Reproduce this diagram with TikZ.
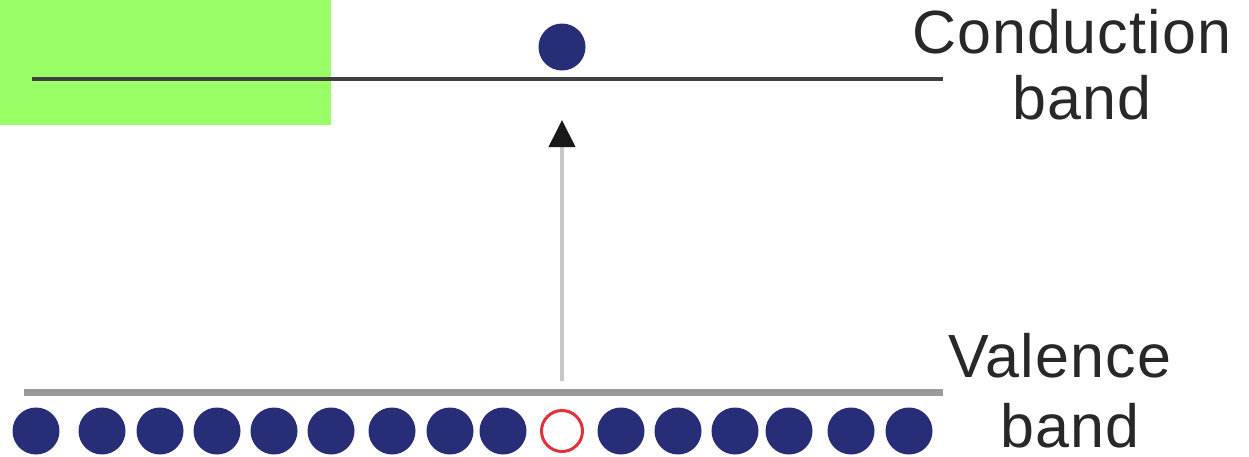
\documentclass[tikz,border=0pt]{standalone}
\usepackage{fontspec}
\setmainfont[LetterSpace=2]{Liberation Sans}
\usetikzlibrary{arrows.meta}
\definecolor{navy}{RGB}{40,45,120}
\definecolor{holered}{RGB}{225,50,60}
\definecolor{lgreen}{RGB}{153,255,102}
\definecolor{txtgray}{RGB}{40,40,40}
\definecolor{condgray}{RGB}{64,64,64}
\definecolor{valgray}{RGB}{155,155,155}
\definecolor{shaftgray}{RGB}{200,200,200}
\begin{document}
\begin{tikzpicture}[x=1pt,y=-1pt,
  electron/.style={circle,fill=navy,inner sep=0pt,minimum size=47pt},
  hole/.style={circle,draw=holered,line width=3pt,fill=white,inner sep=0pt,minimum size=41pt},
  lbl/.style={font=\fontsize{61}{66}\selectfont,text=txtgray,inner sep=0pt,anchor=base},
]
\useasboundingbox (0,0) rectangle (1249,456);
\fill[lgreen] (0,0) rectangle (331,125);
% bands
\coordinate (c1) at (32,79);
\coordinate (c2) at (943,79);
\coordinate (v1) at (24,392);
\coordinate (v2) at (943,392);
\draw[condgray,line width=4pt] (c1) -- (c2);
\draw[valgray,line width=7pt] (v1) -- (v2);
% excited electron
\node[electron] (e0) at (562,47) {};
% arrow
\coordinate (as) at (562,381);
\coordinate (ae) at (562,120);
\draw[shaftgray,line width=4pt,-{Triangle[length=27pt,width=26pt,color=black!90]}] (as) -- (ae);
% valence electrons
\foreach \x [count=\i] in {36,102,160,217,274,331,392,450,503,621,678,735,789,851,909}
  \node[electron] (v\i) at (\x,431) {};
\node[hole] (h) at (562,431) {};
% labels
\node[lbl] (t1) at (1072,53) {Conduction};
\node[lbl] (t2) at (1082,119) {band};
\node[lbl] (t3) at (1060,377) {Valence};
\node[lbl] (t4) at (1070,447) {band};
\end{tikzpicture}
\end{document}
